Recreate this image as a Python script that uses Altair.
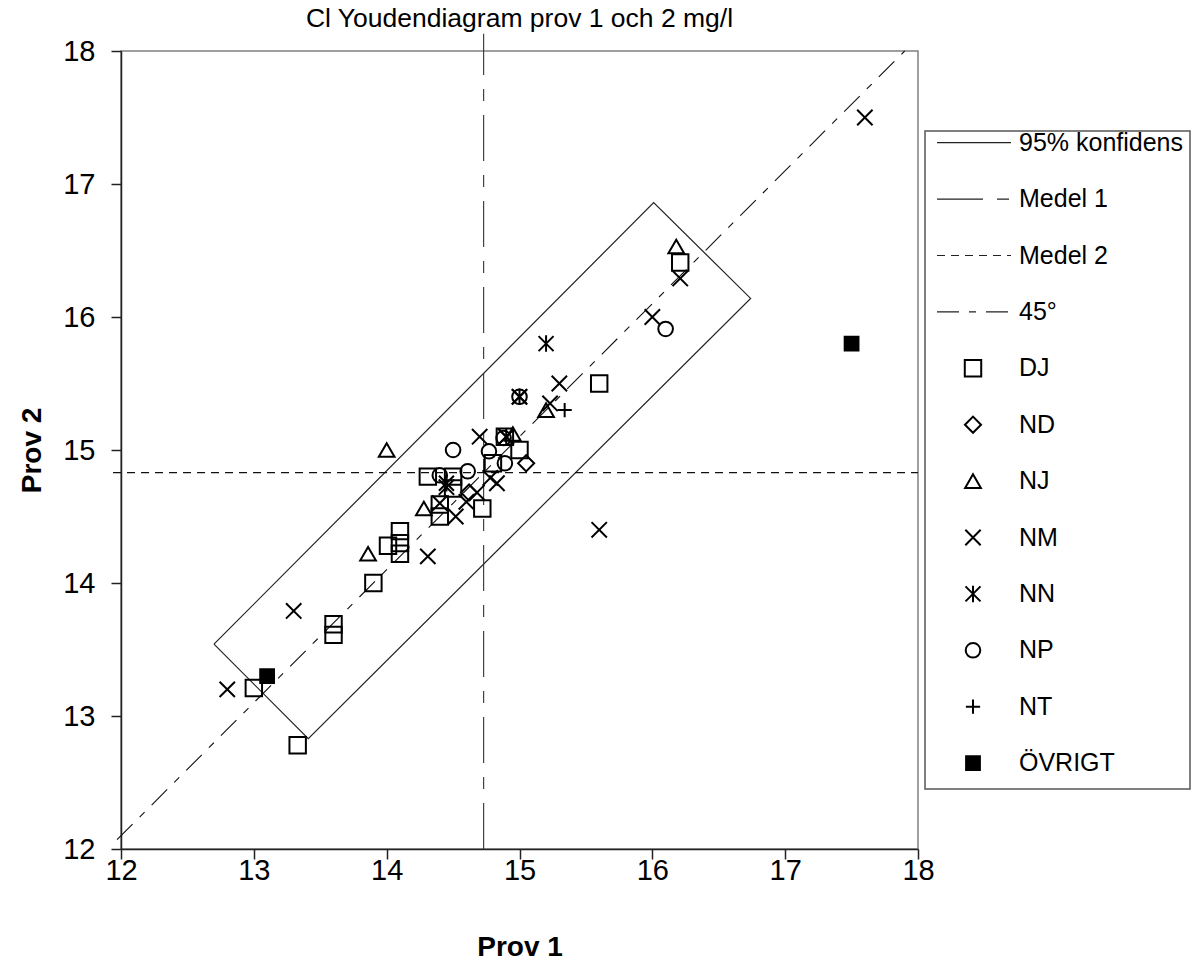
import altair as alt
import pandas as pd

# ---------------- data ----------------
DJ_x = [13.33, 13.0, 13.6, 13.6, 13.9, 14.01, 14.1, 14.1, 14.1, 14.4, 14.4, 14.5, 14.31, 14.5, 14.72, 14.8, 15.0, 14.89, 15.6, 16.21]
DJ_y = [12.78, 13.21, 13.69, 13.61, 14.0, 14.28, 14.39, 14.3, 14.22, 14.5, 14.59, 14.71, 14.8, 14.8, 14.56, 14.9, 15.0, 15.1, 15.5, 16.41]
ND_x = [15.05, 14.62]
ND_y = [14.9, 14.68]
NJ_x = [14.0, 14.28, 13.86, 14.95, 15.2, 16.18]
NJ_y = [15.0, 14.56, 14.22, 15.12, 15.3, 16.53]
NM_x = [12.8, 13.3, 14.31, 14.7, 14.45, 14.52, 14.6, 14.68, 14.78, 14.83, 14.4, 14.9, 15.0, 15.3, 15.23, 16.0, 16.21, 15.6, 17.6]
NM_y = [13.2, 13.79, 14.2, 15.1, 14.72, 14.5, 14.61, 14.68, 14.79, 14.75, 14.6, 15.1, 15.4, 15.5, 15.35, 16.0, 16.29, 14.4, 17.5]
NN_x = [15.2, 15.0, 14.9, 14.45]
NN_y = [15.8, 15.4, 15.1, 14.75]
NP_x = [14.5, 14.4, 14.61, 14.77, 14.89, 14.88, 15.0, 16.1]
NP_y = [15.0, 14.81, 14.84, 14.99, 14.9, 15.09, 15.4, 15.91]
NT_x = [15.34]
NT_y = [15.3]
OV_x = [13.1, 17.5]
OV_y = [13.3, 15.8]

groups = ["DJ", "ND", "NJ", "NM", "NN", "NP", "NT", "ÖVRIGT"]
group_x = [DJ_x, ND_x, NJ_x, NM_x, NN_x, NP_x, NT_x, OV_x]
group_y = [DJ_y, ND_y, NJ_y, NM_y, NN_y, NP_y, NT_y, OV_y]

# 95 % confidence rectangle (corners, closed)
conf_x = [12.70, 16.01, 16.74, 13.41, 12.70]
conf_y = [13.54, 16.86, 16.14, 12.83, 13.54]

mean1 = 14.73
mean2 = 14.83
m1_y = [12.0, 18.13]
m2_x = [11.94, 18.0]
diag_x = [11.97, 17.9]
diag_y = [12.07, 18.0]

axis_ticks = [12, 13, 14, 15, 16, 17, 18]

line_labels = ["95% konfidens", "Medel 1", "Medel 2", "45°"]
legend_labels = line_labels + groups

# ---------------- styles ----------------
FONT = "Liberation Sans"
shape_paths = [
    "square",
    "diamond",
    "triangle-up",
    "M-1,-1L1,1M-1,1L1,-1",
    "M-1,-1L1,1M-1,1L1,-1M0,-1.1L0,1.1",
    "circle",
    "M-1,0L1,0M0,-1L0,1",
    "square",
]
shape_sizes = [270, 190, 300, 320, 290, 270, 290, 180]
shape_fills = ["transparent"] * 7 + ["black"]
dashes = [[1, 0], [46, 14, 12, 14], [8, 6], [22, 10, 7, 10]]

# ---------------- frames ----------------
pts = pd.DataFrame(
    [(x, y, g) for g, xs, ys in zip(groups, group_x, group_y) for x, y in zip(xs, ys)],
    columns=["x", "y", "group"],
)
conf_df = pd.DataFrame({"x": conf_x, "y": conf_y, "i": list(range(len(conf_x)))})
m1_df = pd.DataFrame({"x": [mean1, mean1], "y": m1_y})
m2_df = pd.DataFrame({"x": m2_x, "y": [mean2, mean2]})
diag_df = pd.DataFrame({"x": diag_x, "y": diag_y})
leg_lines = pd.DataFrame({"label": line_labels})
leg_marks = pd.DataFrame({"label": groups, "group": groups})
leg_text = pd.DataFrame({"label": legend_labels})
box_df = pd.DataFrame({"a": [0]})

x_axis = alt.Axis(
    title="Prov 1", values=axis_ticks, format="d", grid=False,
    tickSize=10, labelPadding=-3, labelFontSize=29, labelFont=FONT,
    titleFontSize=28, titleFont=FONT, titleFontWeight="bold", titlePadding=48,
    labelColor="black", titleColor="black", domainColor="#222", tickColor="#222",
    domainWidth=1.5, tickWidth=1.5, labelFlush=False, labelOverlap=False,
)
y_axis = alt.Axis(
    title="Prov 2", values=axis_ticks, format="d", grid=False,
    tickSize=10, labelPadding=16, labelFontSize=29, labelFont=FONT,
    titleFontSize=28, titleFont=FONT, titleFontWeight="bold", titlePadding=16,
    labelColor="black", titleColor="black", domainColor="#222", tickColor="#222",
    domainWidth=1.5, tickWidth=1.5, labelOverlap=False,
)
xs = alt.Scale(domain=[12, 18], nice=False, zero=False)
ys = alt.Scale(domain=[12, 18], nice=False, zero=False)
X = alt.X("x:Q", scale=xs, axis=x_axis)
Y = alt.Y("y:Q", scale=ys, axis=y_axis)

shape_enc = alt.Shape("group:N", scale=alt.Scale(domain=groups, range=shape_paths), legend=None)
size_enc = alt.Size("group:N", scale=alt.Scale(domain=groups, range=shape_sizes), legend=None)
fill_enc = alt.Fill("group:N", scale=alt.Scale(domain=groups, range=shape_fills), legend=None)

conf = alt.Chart(conf_df).mark_line(color="#222", strokeWidth=1.2).encode(x=X, y=Y, order="i:Q")
m1 = alt.Chart(m1_df).mark_line(color="#333", strokeWidth=1.1, strokeDash=[46, 14, 12, 14]).encode(x=X, y=Y)
m2 = alt.Chart(m2_df).mark_line(color="#111", strokeWidth=1.1, strokeDash=[8, 6]).encode(x=X, y=Y)
diag = alt.Chart(diag_df).mark_line(color="#111", strokeWidth=1.1, strokeDash=[22, 10, 7, 10]).encode(x=X, y=Y)
points = alt.Chart(pts).mark_point(filled=False, color="black", strokeWidth=2, opacity=1).encode(
    x=X, y=Y, shape=shape_enc, size=size_enc, fill=fill_enc
)
main = alt.layer(conf, m1, m2, diag, points)

# ---------------- legend panel ----------------
LY = alt.Y(
    "label:N",
    scale=alt.Scale(type="point", domain=legend_labels, range=[91.7, 712.1], padding=0),
    axis=None,
)
box = alt.Chart(box_df).mark_rect(fill="white", stroke="#555", strokeWidth=1.5).encode(
    x=alt.value(804), x2=alt.value(1069), y=alt.value(80), y2=alt.value(738)
)
leg_rule = alt.Chart(leg_lines).mark_rule(color="#222", strokeWidth=1.2).encode(
    x=alt.value(816), x2=alt.value(890), y=LY,
    strokeDash=alt.StrokeDash("label:N", scale=alt.Scale(domain=line_labels, range=dashes), legend=None),
)
leg_mark = alt.Chart(leg_marks).mark_point(filled=False, color="black", strokeWidth=2, opacity=1).encode(
    x=alt.value(852), y=LY, shape=shape_enc, size=size_enc, fill=fill_enc
)
leg_txt = alt.Chart(leg_text).mark_text(
    align="left", baseline="middle", font=FONT, fontSize=25, color="black"
).encode(x=alt.value(898), y=LY, text="label:N")
legend = alt.layer(box, leg_rule, leg_mark, leg_txt)

chart = (
    alt.layer(main, legend)
    .resolve_scale(y="independent")
    .properties(
        width=797,
        height=798,
        padding={"left": 18, "top": 6, "right": 3, "bottom": 5},
        title=alt.TitleParams(
            "Cl Youdendiagram prov 1 och 2 mg/l", fontSize=26.5, font=FONT,
            fontWeight="normal", color="black", anchor="middle", offset=-1,
        ),
        background="white",
    )
    .configure_view(stroke="#808080", strokeWidth=1.5)
)

chart.save("out.html", embed_options={"renderer": "svg", "actions": False})
